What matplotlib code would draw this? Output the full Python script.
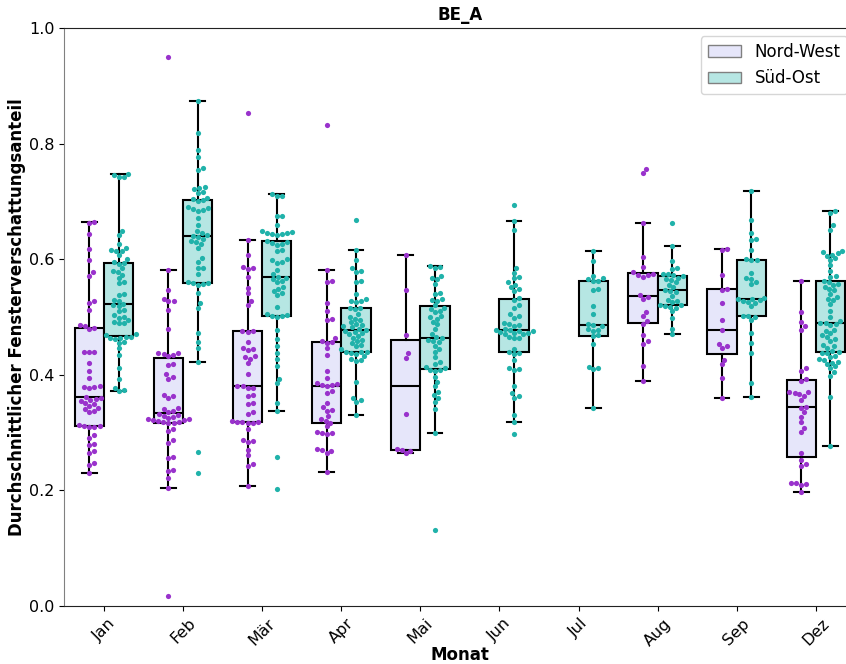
import numpy as np
import matplotlib
matplotlib.use("Agg")
import matplotlib.pyplot as plt
from matplotlib.patches import Patch

# =========================================================
# DATA
# =========================================================

months = ["Jan", "Feb", "Mär", "Apr", "Mai", "Jun", "Jul", "Aug", "Sep", "Dez"]
groups = ["Nord-West", "Süd-Ost"]

jan_nw = [0.665, 0.663, 0.643, 0.617, 0.599, 0.577, 0.571, 0.528, 0.525, 0.512, 0.486, 0.485, 0.481,
          0.479, 0.440, 0.440, 0.439, 0.420, 0.407, 0.395, 0.380, 0.379, 0.379, 0.378, 0.360, 0.362,
          0.358, 0.356, 0.355, 0.352, 0.350, 0.346, 0.343, 0.340, 0.337, 0.335, 0.311, 0.310, 0.309,
          0.313, 0.312, 0.296, 0.291, 0.281, 0.279, 0.268, 0.265, 0.248, 0.244, 0.230]
jan_so = [0.747, 0.745, 0.743, 0.742, 0.648, 0.642, 0.627, 0.619, 0.616, 0.615, 0.614, 0.607, 0.600,
          0.595, 0.593, 0.592, 0.584, 0.580, 0.578, 0.573, 0.567, 0.560, 0.558, 0.540, 0.538, 0.530,
          0.528, 0.522, 0.520, 0.519, 0.512, 0.510, 0.503, 0.500, 0.498, 0.495, 0.492, 0.490, 0.489,
          0.468, 0.463, 0.462, 0.464, 0.470, 0.466, 0.465, 0.457, 0.455, 0.446, 0.434, 0.411, 0.392,
          0.378, 0.374, 0.372]

feb_nw = [0.950, 0.581, 0.547, 0.531, 0.528, 0.527, 0.512, 0.480, 0.438, 0.437, 0.436, 0.435, 0.433,
          0.419, 0.417, 0.401, 0.396, 0.393, 0.365, 0.363, 0.360, 0.342, 0.340, 0.338, 0.336, 0.333,
          0.330, 0.328, 0.327, 0.325, 0.324, 0.323, 0.322, 0.321, 0.320, 0.319, 0.318, 0.317, 0.316,
          0.307, 0.302, 0.287, 0.282, 0.258, 0.256, 0.235, 0.233, 0.221, 0.204, 0.018]
feb_so = [0.874, 0.819, 0.789, 0.777, 0.757, 0.755, 0.725, 0.723, 0.721, 0.716, 0.714, 0.706, 0.704,
          0.702, 0.700, 0.690, 0.688, 0.686, 0.685, 0.683, 0.672, 0.659, 0.648, 0.645, 0.642, 0.640,
          0.638, 0.635, 0.632, 0.630, 0.627, 0.620, 0.602, 0.596, 0.585, 0.584, 0.575, 0.560, 0.559,
          0.558, 0.557, 0.556, 0.541, 0.524, 0.516, 0.472, 0.457, 0.446, 0.423, 0.267, 0.230]

mar_nw = [0.853, 0.633, 0.607, 0.587, 0.585, 0.583, 0.570, 0.550, 0.541, 0.527, 0.521, 0.476, 0.475,
          0.474, 0.456, 0.447, 0.445, 0.443, 0.432, 0.431, 0.428, 0.420, 0.401, 0.381, 0.380, 0.378,
          0.377, 0.365, 0.363, 0.351, 0.349, 0.335, 0.333, 0.320, 0.319, 0.318, 0.318, 0.317, 0.316,
          0.307, 0.287, 0.285, 0.283, 0.270, 0.261, 0.245, 0.243, 0.208]
mar_so = [0.712, 0.710, 0.709, 0.675, 0.674, 0.659, 0.648, 0.647, 0.646, 0.645, 0.644, 0.643, 0.642,
          0.632, 0.630, 0.628, 0.627, 0.625, 0.616, 0.614, 0.600, 0.598, 0.596, 0.594, 0.582, 0.575,
          0.570, 0.568, 0.566, 0.562, 0.560, 0.552, 0.548, 0.545, 0.541, 0.538, 0.518, 0.505, 0.503,
          0.502, 0.501, 0.500, 0.478, 0.462, 0.449, 0.438, 0.428, 0.416, 0.393, 0.385, 0.351, 0.338,
          0.258, 0.202]

apr_nw = [0.833, 0.581, 0.562, 0.560, 0.525, 0.510, 0.496, 0.494, 0.463, 0.458, 0.456, 0.455, 0.446,
          0.434, 0.407, 0.394, 0.386, 0.384, 0.383, 0.382, 0.381, 0.372, 0.369, 0.352, 0.344, 0.339,
          0.337, 0.328, 0.323, 0.320, 0.317, 0.311, 0.301, 0.300, 0.299, 0.297, 0.271, 0.270, 0.269,
          0.265, 0.232]
apr_so = [0.667, 0.616, 0.599, 0.584, 0.580, 0.578, 0.562, 0.560, 0.539, 0.531, 0.528, 0.527, 0.526,
          0.516, 0.515, 0.513, 0.505, 0.500, 0.497, 0.494, 0.491, 0.488, 0.486, 0.484, 0.482, 0.480,
          0.478, 0.476, 0.474, 0.472, 0.470, 0.467, 0.464, 0.461, 0.458, 0.455, 0.452, 0.449, 0.444,
          0.440, 0.440, 0.439, 0.438, 0.436, 0.432, 0.427, 0.425, 0.424, 0.388, 0.360, 0.356, 0.353,
          0.330]

mai_nw = [0.607, 0.547, 0.469, 0.437, 0.429, 0.332, 0.272, 0.270, 0.268, 0.264]
mai_so = [0.588, 0.587, 0.585, 0.571, 0.567, 0.565, 0.557, 0.542, 0.540, 0.532, 0.530, 0.528, 0.520,
          0.516, 0.513, 0.511, 0.508, 0.502, 0.500, 0.497, 0.492, 0.488, 0.480, 0.470, 0.465, 0.463,
          0.460, 0.458, 0.456, 0.450, 0.445, 0.440, 0.430, 0.422, 0.418, 0.414, 0.412, 0.409, 0.408,
          0.407, 0.397, 0.388, 0.380, 0.370, 0.365, 0.360, 0.353, 0.340, 0.300, 0.131]

jun_nw = []
jun_so = [0.694, 0.666, 0.651, 0.584, 0.576, 0.569, 0.567, 0.560, 0.556, 0.552, 0.548, 0.545, 0.533,
          0.530, 0.520, 0.516, 0.505, 0.502, 0.499, 0.490, 0.488, 0.486, 0.484, 0.480, 0.478, 0.477,
          0.476, 0.475, 0.474, 0.473, 0.472, 0.471, 0.470, 0.465, 0.464, 0.463, 0.445, 0.440, 0.438,
          0.436, 0.426, 0.412, 0.410, 0.408, 0.380, 0.368, 0.364, 0.360, 0.330, 0.319, 0.297]

jul_nw = []
jul_so = [0.614, 0.597, 0.571, 0.567, 0.565, 0.563, 0.562, 0.548, 0.546, 0.519, 0.506, 0.488, 0.486,
          0.484, 0.479, 0.477, 0.476, 0.468, 0.467, 0.454, 0.414, 0.412, 0.410, 0.343]

aug_nw = [0.756, 0.749, 0.663, 0.604, 0.587, 0.577, 0.575, 0.573, 0.572, 0.570, 0.538, 0.535, 0.531,
          0.509, 0.502, 0.493, 0.488, 0.469, 0.458, 0.454, 0.416, 0.389]
aug_so = [0.663, 0.622, 0.597, 0.584, 0.583, 0.575, 0.574, 0.572, 0.571, 0.568, 0.566, 0.564, 0.560,
          0.556, 0.552, 0.547, 0.545, 0.543, 0.537, 0.530, 0.528, 0.526, 0.521, 0.520, 0.519, 0.518,
          0.516, 0.510, 0.498, 0.480, 0.470]

sep_nw = [0.618, 0.616, 0.573, 0.549, 0.547, 0.525, 0.495, 0.478, 0.453, 0.450, 0.446, 0.426, 0.418,
          0.395, 0.360]
sep_so = [0.718, 0.667, 0.645, 0.635, 0.633, 0.616, 0.600, 0.599, 0.598, 0.576, 0.567, 0.566, 0.560,
          0.557, 0.533, 0.532, 0.531, 0.530, 0.528, 0.526, 0.525, 0.519, 0.502, 0.501, 0.500, 0.494,
          0.472, 0.455, 0.438, 0.385, 0.361]

dez_nw = [0.562, 0.508, 0.491, 0.484, 0.478, 0.411, 0.407, 0.392, 0.389, 0.371, 0.370, 0.369, 0.366,
          0.364, 0.357, 0.345, 0.343, 0.335, 0.327, 0.318, 0.308, 0.301, 0.264, 0.253, 0.246, 0.243,
          0.213, 0.212, 0.211, 0.209, 0.198]
dez_so = [0.684, 0.680, 0.659, 0.651, 0.614, 0.612, 0.610, 0.608, 0.605, 0.602, 0.599, 0.590, 0.580,
          0.571, 0.569, 0.562, 0.560, 0.557, 0.555, 0.552, 0.549, 0.546, 0.540, 0.535, 0.532, 0.530,
          0.522, 0.510, 0.500, 0.493, 0.490, 0.489, 0.488, 0.486, 0.478, 0.475, 0.472, 0.468, 0.465,
          0.462, 0.458, 0.452, 0.450, 0.447, 0.442, 0.439, 0.438, 0.437, 0.433, 0.430, 0.428, 0.426,
          0.423, 0.421, 0.418, 0.415, 0.412, 0.405, 0.398, 0.362, 0.276]

nw_data = [jan_nw, feb_nw, mar_nw, apr_nw, mai_nw, jun_nw, jul_nw, aug_nw, sep_nw, dez_nw]
so_data = [jan_so, feb_so, mar_so, apr_so, mai_so, jun_so, jul_so, aug_so, sep_so, dez_so]

# =========================================================
# STYLE
# =========================================================

box_colors = ["#e6e6fa", "#b6e6e3"]
point_colors = ["#9932cc", "#20b2aa"]
offsets = [-0.185, 0.185]
box_width = 0.37

# =========================================================
# SWARM LAYOUT (simple beeswarm in pixel space)
# =========================================================

def swarm_offsets(y_px, d):

    order = np.argsort(y_px)
    placed = []
    xs = np.zeros(len(y_px))

    for i in order:

        y = y_px[i]
        near = [(px, py) for px, py in placed if abs(py - y) < d]

        cands = [0.0]
        for px, py in near:
            dx = np.sqrt(d ** 2 - (py - y) ** 2)
            cands += [px + dx, px - dx]
        cands.sort(key=abs)

        x = cands[0]
        for c in cands:
            if all((c - px) ** 2 + (y - py) ** 2 >= d ** 2 - 1e-6 for px, py in near):
                x = c
                break

        xs[i] = x
        placed.append((x, y))

    return xs


# =========================================================
# CREATE FIGURE
# =========================================================

fig = plt.figure(figsize=(8.46, 6.64), dpi=100)
ax = fig.add_axes([64.4 / 846, 58 / 664, 791 / 846, 578 / 664])

ax_w_px = 791
ax_h_px = 578
px_per_x = ax_w_px / 10.0
px_per_y = ax_h_px / 1.0
dot_d = 5.2

for g, data in enumerate([nw_data, so_data]):

    pos = [i + offsets[g] for i in range(len(months)) if len(data[i]) > 0]
    vals = [d for d in data if len(d) > 0]

    ax.boxplot(
        vals,
        positions=pos,
        widths=box_width,
        patch_artist=True,
        showfliers=False,
        manage_ticks=False,
        boxprops=dict(facecolor=box_colors[g], edgecolor="black", linewidth=1.5),
        medianprops=dict(color="black", linewidth=1.5),
        whiskerprops=dict(color="black", linewidth=1.5),
        capprops=dict(color="black", linewidth=1.5),
        zorder=2,
    )

    for p, v in zip(pos, vals):

        v = np.array(v)
        xo = swarm_offsets(v * px_per_y, dot_d) / px_per_x

        ax.scatter(
            p + xo,
            v,
            s=14,
            color=point_colors[g],
            linewidths=0,
            zorder=3,
        )

# =========================================================
# AXES
# =========================================================

ax.set_xlim(-0.5, 9.5)
ax.set_ylim(0, 1.0)
ax.set_yticks([0.0, 0.2, 0.4, 0.6, 0.8, 1.0])
ax.set_xticks(range(len(months)))
ax.set_xticklabels(months, rotation=45)
ax.tick_params(labelsize=11.5)

ax.spines["left"].set_color("#808080")
ax.spines["top"].set_color("#222222")
ax.spines["bottom"].set_color("#222222")

ax.set_title("BE_A", fontsize=12, fontweight="bold")
ax.set_xlabel("Monat", fontsize=12, fontweight="bold")
ax.set_ylabel("Durchschnittlicher Fensterverschattungsanteil", fontsize=12, fontweight="bold")
ax.xaxis.set_label_coords(0.5, -0.069)
ax.yaxis.set_label_coords(-0.048, 0.5)

handles = [
    Patch(facecolor=box_colors[0], edgecolor="gray", label=groups[0]),
    Patch(facecolor=box_colors[1], edgecolor="gray", label=groups[1]),
]
ax.legend(handles=handles, loc="upper right", fontsize=12)

# =========================================================
# FINALIZE
# =========================================================

fig.savefig("out.png", dpi=100)
